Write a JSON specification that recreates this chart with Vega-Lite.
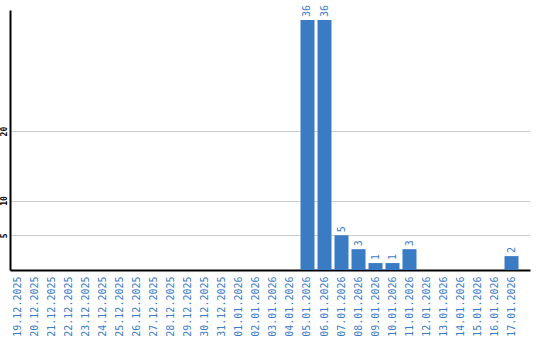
{
  "$schema": "https://vega.github.io/schema/vega-lite/v6.json",
  "autosize": "none",
  "padding": {"left": 10, "top": 10, "right": 10, "bottom": 70},
  "width": 520,
  "height": 260,
  "background": "white",
  "config": {"view": {"stroke": null}},
  "data": {"values": [
    {"date": "19.12.2025", "count": 0},
    {"date": "20.12.2025", "count": 0},
    {"date": "21.12.2025", "count": 0},
    {"date": "22.12.2025", "count": 0},
    {"date": "23.12.2025", "count": 0},
    {"date": "24.12.2025", "count": 0},
    {"date": "25.12.2025", "count": 0},
    {"date": "26.12.2025", "count": 0},
    {"date": "27.12.2025", "count": 0},
    {"date": "28.12.2025", "count": 0},
    {"date": "29.12.2025", "count": 0},
    {"date": "30.12.2025", "count": 0},
    {"date": "31.12.2025", "count": 0},
    {"date": "01.01.2026", "count": 0},
    {"date": "02.01.2026", "count": 0},
    {"date": "03.01.2026", "count": 0},
    {"date": "04.01.2026", "count": 0},
    {"date": "05.01.2026", "count": 36},
    {"date": "06.01.2026", "count": 36},
    {"date": "07.01.2026", "count": 5},
    {"date": "08.01.2026", "count": 3},
    {"date": "09.01.2026", "count": 1},
    {"date": "10.01.2026", "count": 1},
    {"date": "11.01.2026", "count": 3},
    {"date": "12.01.2026", "count": 0},
    {"date": "13.01.2026", "count": 0},
    {"date": "14.01.2026", "count": 0},
    {"date": "15.01.2026", "count": 0},
    {"date": "16.01.2026", "count": 0},
    {"date": "17.01.2026", "count": 2}
  ]},
  "encoding": {
    "x": {
      "field": "date", "type": "nominal", "sort": null,
      "scale": {"paddingInner": 0.176, "paddingOuter": 0.382, "align": 0.115},
      "axis": {
        "title": null, "domain": true, "domainColor": "#000000", "domainWidth": 2,
        "ticks": false, "labelAngle": -90,
        "labelFont": "DejaVu Sans Mono", "labelFontSize": 10, "labelColor": "#3a7cc8",
        "labelPadding": 6
      }
    },
    "y": {
      "field": "count", "type": "quantitative",
      "scale": {"domain": [0, 37.44], "nice": false, "zero": true},
      "axis": {
        "title": null, "values": [5, 10, 20], "ticks": false,
        "domainColor": "#000000", "domainWidth": 2,
        "gridColor": "#cccccc", "gridWidth": 1,
        "labelAngle": -90, "labelFont": "DejaVu Sans Mono", "labelFontSize": 8,
        "labelFontWeight": "bold", "labelColor": "#000000", "labelPadding": 2
      }
    }
  },
  "layer": [
    {"mark": {"type": "bar", "color": "#3a7cc4"}},
    {
      "transform": [{"filter": "datum.count > 0"}],
      "mark": {"type": "text", "angle": 270, "align": "left", "baseline": "middle",
               "dx": 3, "font": "DejaVu Sans Mono", "fontSize": 10, "color": "#3a7cc8"},
      "encoding": {"text": {"field": "count", "type": "quantitative"}}
    }
  ]
}
